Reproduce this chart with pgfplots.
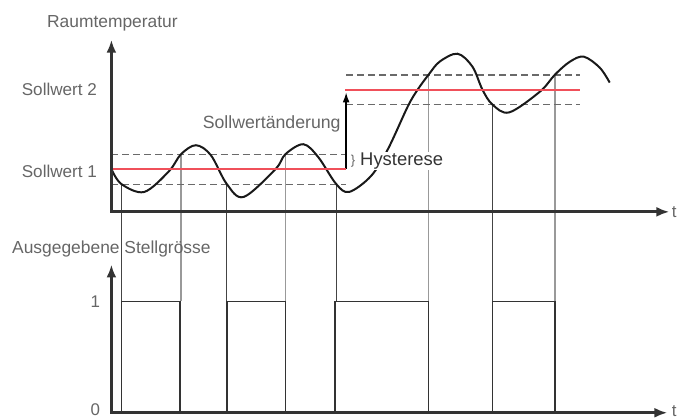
\documentclass[border=0pt]{standalone}
\usepackage{pgfplots}
\pgfplotsset{compat=1.18}
\usepackage{fontspec}
\setmainfont{Liberation Sans}
\usetikzlibrary{arrows.meta}
\definecolor{axc}{HTML}{333333}
\definecolor{txt}{HTML}{666666}
\definecolor{dashc}{HTML}{6A6A6A}
\definecolor{setp}{HTML}{F0505A}
\definecolor{lgray}{HTML}{999999}
\definecolor{dgray}{HTML}{444444}
\begin{document}
\begin{tikzpicture}
\begin{axis}[
  scale only axis, width=680pt, height=419pt,
  xmin=0, xmax=680, ymin=0, ymax=419, y dir=reverse,
  hide axis, clip=false,
  every axis plot/.append style={line join=miter},
  unbounded coords=jump,
]
% frame of the picture (invisible)
\addplot[draw=none] coordinates {(0,0) (680,419)};
% thin lines from the switching points down to the output level
\addplot[lgray, line width=1.2pt] coordinates {
  (182,155) (182,303) (nan,nan) (287,155) (287,303) (nan,nan)
  (431,75) (431,303) (nan,nan) (558,75) (558,303)};
\addplot[dgray, line width=1pt] coordinates {
  (122,185) (122,303) (nan,nan) (228,185) (228,303) (nan,nan)
  (338,185) (338,303) (nan,nan) (495,105) (495,303)};
% hysteresis bands
\addplot[draw=dashc, line width=1.3pt, dash pattern=on 7pt off 4pt] coordinates {
  (112,155.3) (348,155.3) (nan,nan) (112,185.3) (348,185.3) (nan,nan)
  (348,75.3) (583,75.3) (nan,nan) (348,105.3) (583,105.3)};
% set point change
\addplot[black, line width=1.3pt, -{Latex[length=10pt,width=7pt]}] coordinates {(348,170) (348,93)};
% room temperature
\addplot[black!90, line width=2pt, smooth, tension=0.55] coordinates {
  (112,170) (122,185) (145,193) (170,172) (182,155) (197,146) (212,156)
  (228,185) (245,198) (277,170) (287,155) (305,145) (320,158) (338,185)
  (351,193) (373,177) (390,150) (410,107) (420,90) (431,75) (442,62)
  (460,54) (475,67) (485,90) (495,105) (512,113) (543,92) (558,75)
  (573,62) (587,57) (603,68) (613,83)};
% set points
\addplot[draw=setp, line width=1.8pt] coordinates {(112,170.3) (348,170.3)};
\addplot[draw=setp, line width=1.8pt] coordinates {(347,90.3) (583,90.3)};
% output signal
\addplot[axc, line width=1.6pt] coordinates {
  (122,415) (122,303) (181,303) (181,415) (nan,nan)
  (228,415) (228,303) (287,303) (287,415) (nan,nan)
  (337,415) (337,303) (431,303) (431,415) (nan,nan)
  (495,415) (495,303) (558,303) (558,415)};
% axes
\addplot[axc, line width=3pt, {Latex[length=13pt,width=10pt]}-{Latex[length=13pt,width=10pt]}]
  coordinates {(112,40) (112,213) (673,213)};
\addplot[axc, line width=3pt, {Latex[length=13pt,width=10pt]}-{Latex[length=13pt,width=10pt]}]
  coordinates {(112,266) (112,415) (671,415)};
% texts
\node[txt, font=\fontsize{17.5}{21}\selectfont] at (axis cs:113,23) {Raumtemperatur};
\node[txt, font=\fontsize{17.2}{19}\selectfont, anchor=east] at (axis cs:101,90) {Sollwert 2};
\node[txt, font=\fontsize{17.2}{19}\selectfont, anchor=east] at (axis cs:101,172) {Sollwert 1};
\node[txt, font=\fontsize{17.8}{19}\selectfont, anchor=east] at (axis cs:346,125) {Sollwertänderung};
\node[txt, font=\fontsize{13}{15}\selectfont] at (axis cs:355,162) {\}};
\node[fill=white, text=axc, font=\fontsize{18.5}{19}\selectfont, anchor=west, inner sep=1pt] at (axis cs:361,162) {Hysterese};
\node[txt, font=\fontsize{17.5}{19}\selectfont] at (axis cs:112,250) {Ausgegebene Stellgrösse};
\node[txt, font=\fontsize{17}{19}\selectfont, anchor=east] at (axis cs:104,303) {1};
\node[txt, font=\fontsize{17}{19}\selectfont, anchor=east] at (axis cs:104,412) {0};
\node[txt, font=\fontsize{17}{19}\selectfont] at (axis cs:678,213) {t};
\node[txt, font=\fontsize{17}{19}\selectfont] at (axis cs:678,413) {t};
\end{axis}
\end{tikzpicture}
\end{document}
